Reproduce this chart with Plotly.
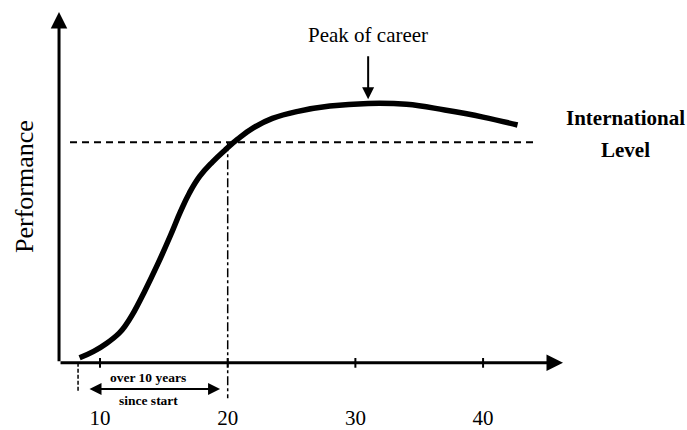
import plotly.graph_objects as go

# ---- data ----
age = [8.4, 9.5, 10.5, 11.5, 12.0, 12.5, 13.5, 14.5, 15.5, 16.3, 17.0, 17.8, 18.8, 19.8,
       20.8, 22.0, 23.5, 25.5, 28.0, 31.0, 34.0, 37.0, 40.0, 42.7]
performance = [2.3, 5.2, 8.8, 13.5, 17.0, 21.5, 32.5, 44.5, 57.5, 68.5, 77.0, 84.5, 91.0, 96.5,
               101.5, 106.5, 110.8, 114.0, 116.4, 117.6, 117.2, 114.6, 111.4, 107.8]
tick_values = [10, 20, 30, 40]
tick_labels = ["10", "20", "30", "40"]
international_level = 100
start_age = 8.28
level_age = 20
peak_age = 31.0
axis_x0 = 6.79
axis_x1 = 46.26
axis_y1 = 159

SERIF = "Liberation Serif"

W, H = 687, 430
L, R, T, B = 40, 112, 5, 23
pw, ph = W - L - R, H - T - B


def px_x(p):
    return (p - L) / pw


def px_y(p):
    return (H - B - p) / ph


fig = go.Figure()
fig.add_trace(go.Scatter(
    x=age, y=performance, mode="lines",
    line=dict(color="black", width=5.5, shape="spline", smoothing=1.2),
    hoverinfo="skip", showlegend=False,
))

shapes = []
# International level dashed line
shapes.append(dict(type="line", xref="x", yref="y", x0=7.65, x1=44.2,
                   y0=international_level, y1=international_level,
                   line=dict(color="black", width=2, dash="7px,5px")))
# Dash-dot vertical at age 20
shapes.append(dict(type="line", xref="x", yref="y", x0=level_age, x1=level_age,
                   y0=international_level, y1=-16,
                   line=dict(color="black", width=1.5, dash="dashdot")))
# Start marker
shapes.append(dict(type="line", xref="x", yref="y", x0=start_age, x1=start_age,
                   y0=0, y1=-13.5,
                   line=dict(color="black", width=1.5, dash="4px,2px")))
# x ticks
for t in tick_values:
    shapes.append(dict(type="line", xref="x", yref="y", x0=t, x1=t, y0=-2.2, y1=2.2,
                       line=dict(color="black", width=2)))

annotations = []
# axes with arrows
annotations.append(dict(x=axis_x1, y=0, ax=axis_x0, ay=0, xref="x", yref="y",
                        axref="x", ayref="y", text="", showarrow=True,
                        arrowhead=2, arrowsize=1.1, arrowwidth=3, arrowcolor="black"))
annotations.append(dict(x=axis_x0, y=axis_y1, ax=axis_x0, ay=0, xref="x", yref="y",
                        axref="x", ayref="y", text="", showarrow=True,
                        arrowhead=2, arrowsize=1.1, arrowwidth=3, arrowcolor="black"))
# double arrow "over 10 years since start"
annotations.append(dict(x=19.4, y=-11.8, ax=9.06, ay=-11.8, xref="x", yref="y",
                        axref="x", ayref="y", text="", showarrow=True,
                        arrowhead=2, startarrowhead=2, arrowside="end+start",
                        arrowsize=1.2, startarrowsize=1.2, arrowwidth=2, arrowcolor="black"))
annotations.append(dict(x=13.76, y=-6.8, xref="x", yref="y", text="<b>over 10 years</b>",
                        showarrow=False, font=dict(family=SERIF, size=13.5, color="black")))
annotations.append(dict(x=13.76, y=-17.2, xref="x", yref="y", text="<b>since start</b>",
                        showarrow=False, font=dict(family=SERIF, size=13.5, color="black")))
# Peak of career
annotations.append(dict(x=peak_age, y=119.5, ax=peak_age, ay=139.6, xref="x", yref="y",
                        axref="x", ayref="y", text="", showarrow=True,
                        arrowhead=2, arrowsize=1.2, arrowwidth=2, arrowcolor="black"))
annotations.append(dict(x=peak_age, y=148.5, xref="x", yref="y", text="Peak of career",
                        showarrow=False, font=dict(family=SERIF, size=21, color="black")))
# International Level
annotations.append(dict(x=px_x(625), y=px_y(118), xref="paper", yref="paper",
                        text="<b>International</b>", xanchor="center", yanchor="middle",
                        showarrow=False, font=dict(family=SERIF, size=21, color="black")))
annotations.append(dict(x=px_x(625), y=px_y(150), xref="paper", yref="paper",
                        text="<b>Level</b>", xanchor="center", yanchor="middle",
                        showarrow=False, font=dict(family=SERIF, size=21, color="black")))
# Performance axis title
annotations.append(dict(x=px_x(24), y=px_y(187), xref="paper", yref="paper",
                        text="Performance", xanchor="center", yanchor="middle",
                        showarrow=False, textangle=-90,
                        font=dict(family=SERIF, size=26, color="black")))

fig.update_layout(
    width=W, height=H,
    margin=dict(l=L, r=R, t=T, b=B, autoexpand=False),
    paper_bgcolor="white", plot_bgcolor="white",
    xaxis=dict(range=[5.30, 47.2], showgrid=False, zeroline=False, showline=False,
               ticks="", tickvals=tick_values, ticktext=tick_labels,
               ticklabelstandoff=-4,
               tickfont=dict(family=SERIF, size=21, color="black"),
               fixedrange=True),
    yaxis=dict(range=[-20, 162.2], visible=False, fixedrange=True),
    shapes=shapes, annotations=annotations,
    showlegend=False,
)

fig.write_html(
    "out.html",
    config={"displayModeBar": False},
    post_script="document.body.style.margin='0';document.body.style.overflow='hidden';",
)
